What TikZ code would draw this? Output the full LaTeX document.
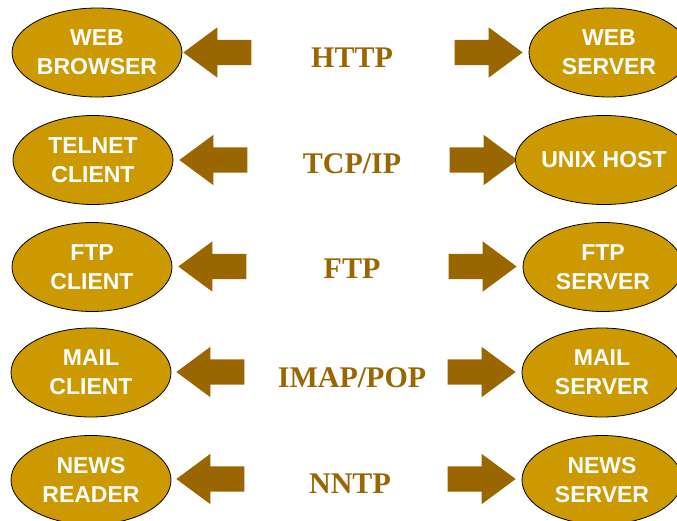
\documentclass[tikz,border=0pt]{standalone}
\usepackage{fontspec}
\setmainfont{Liberation Serif}
\setsansfont{Liberation Sans}
\usepackage{tikz}
\usetikzlibrary{shapes.geometric,shapes.arrows}
\definecolor{npgold}{HTML}{CC9900}
\definecolor{npbrown}{HTML}{996600}
\tikzset{
  npend/.style={ellipse, draw=black, line width=0.8pt, fill=npgold, text=white, align=center,
    minimum width=160pt, minimum height=89pt, inner sep=0pt,
    font=\sffamily\bfseries\fontsize{23}{29}\selectfont},
  npproto/.style={anchor=base, text=npbrown, font=\rmfamily\bfseries\fontsize{30}{36}\selectfont},
  nparrow/.style={single arrow, draw=none, fill=npbrown, minimum height=68pt, anchor=tip,
    inner xsep=0pt, inner ysep=12.5pt, single arrow head extend=12.5pt,
    single arrow tip angle=73, single arrow head indent=0pt},
  npleft/.style={nparrow, shape border rotate=180}
}
\begin{document}
\begin{tikzpicture}[x=1pt, y=-1pt]
\useasboundingbox (0,0) rectangle (677,520);
\clip (0,0) rectangle (677,520);
% web
\node[npend] (browser) at (97,52.5) {WEB\\BROWSER};
\node[npleft] (httpl) at (183,52.5) {};
\node[npproto] (http) at (352,67) {HTTP};
\node[nparrow] (httpr) at (523,52.5) {};
\node[npend] (webserver) at (609,52.5) {WEB\\SERVER};
% telnet
\node[npend] (telnet) at (93,160) {TELNET\\CLIENT};
\node[npleft] (tcpl) at (179,160) {};
\node[npproto] (tcpip) at (352,173) {TCP/IP};
\node[nparrow] (tcpr) at (518,160) {};
\node[npend] (unixhost) at (604,160) {UNIX HOST};
% ftp
\node[npend] (ftpclient) at (92,267) {FTP\\CLIENT};
\node[npleft] (ftpl) at (178,266.5) {};
\node[npproto] (ftp) at (352,278) {FTP};
\node[nparrow] (ftpr) at (517,266.5) {};
\node[npend] (ftpserver) at (603,267) {FTP\\SERVER};
% mail
\node[npend] (mailclient) at (91,372.5) {MAIL\\CLIENT};
\node[npleft] (imapl) at (176,372) {};
\node[npproto] (imap) at (352,387) {IMAP/POP};
\node[nparrow] (imapr) at (516,372) {};
\node[npend] (mailserver) at (602,372.5) {MAIL\\SERVER};
% news
\node[npend] (newsreader) at (91,480) {NEWS\\READER};
\node[npleft] (nntpl) at (176,479) {};
\node[npproto] (nntp) at (350,493) {NNTP};
\node[nparrow] (nntpr) at (516,479) {};
\node[npend] (newsserver) at (602,480) {NEWS\\SERVER};
\end{tikzpicture}
\end{document}
